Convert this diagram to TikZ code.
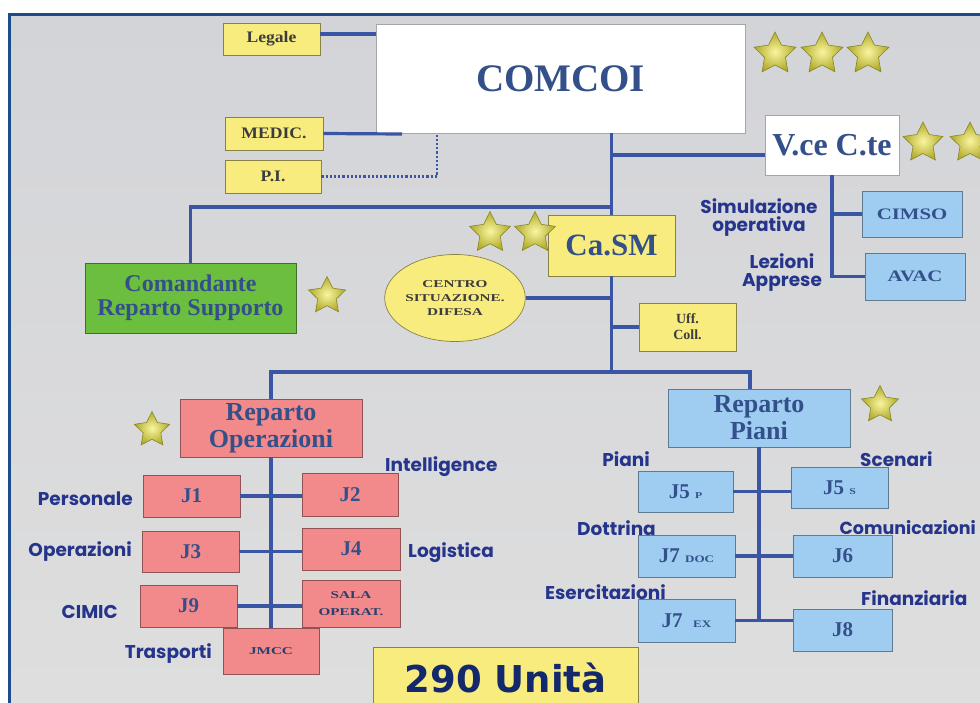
\documentclass[tikz,border=0pt]{standalone}
\usepackage{fontspec}
\setmainfont{Liberation Serif}
\newfontfamily\lab{Poppins}
\newfontfamily\heavy{DejaVu Sans}
\newfontfamily\wserif[FakeStretch=1.45]{Liberation Serif}
\newfontfamily\cserif[FakeStretch=1.3]{Liberation Serif}
\newfontfamily\mserif[FakeStretch=1.1]{Liberation Serif}
\usetikzlibrary{shapes.geometric,calc}
\newcommand{\fsz}[2]{\fontsize{#1}{#2}\selectfont}
\definecolor{linec}{HTML}{3A55A4}
\definecolor{framec}{HTML}{1C4C8C}
\definecolor{txtc}{HTML}{33508A}
\definecolor{labc}{HTML}{26358C}
\definecolor{yel}{HTML}{F8EC7E}
\definecolor{pnk}{HTML}{F2898A}
\definecolor{lblue}{HTML}{9FCDF2}
\definecolor{grn}{HTML}{6BBE3E}
\definecolor{smalltxt}{HTML}{3C3C3C}
\definecolor{navy}{HTML}{14296B}
\definecolor{bgtop}{HTML}{D3D4D8}
\definecolor{bgmid}{HTML}{B6BAC1}
\definecolor{bgbot}{HTML}{DEDEDE}
\definecolor{starin}{HTML}{FAF5A0}
\definecolor{starout}{HTML}{B0AA28}
\definecolor{staredge}{HTML}{84862A}
\begin{document}
\begin{tikzpicture}[x=1pt,y=-1pt,
  box/.style={inner sep=0, align=center, line width=0.7},
  ybox/.style={box, fill=yel, draw=yel!55!black},
  wbox/.style={box, fill=white, draw=black!35},
  pbox/.style={box, fill=pnk, draw=pnk!60!black},
  bbox/.style={box, fill=lblue, draw=lblue!60!black},
  gbox/.style={box, fill=grn, draw=grn!60!black},
  conn/.style={draw=linec, line width=3.2},
  lbl/.style={inner sep=0, text=labc, font={\lab\bfseries\fsz{18.5}{20}}, align=center},
  gstar/.style={star, star points=5, star point ratio=2.0, minimum size=#1, inner sep=0,
    draw=staredge, line width=0.6, shading=radial, inner color=starin, outer color=starout},
  bigt/.style={text=txtc, font={\bfseries\fsz{26}{27}}},
  jt/.style={text=txtc, font={\bfseries\fsz{21}{22}}},
  smt/.style={text=smalltxt}
]
\useasboundingbox (0,0) rectangle (980,702);
\fill[white] (0,0) rectangle (980,702);
\shade[top color=bgtop, middle color=bgmid, bottom color=bgbot] (9,14) rectangle (980,702);
\draw[framec, line width=3] (9,704) -- (9,14) -- (982,14);

% ---------- top level ----------
\node[wbox, minimum width=369, minimum height=109, text=txtc, font={\bfseries\fsz{39}{40}}] (comcoi) at (560.5,78.5) {COMCOI};
\node[ybox, minimum width=97, minimum height=32, smt, font={\mserif\bfseries\fsz{16}{17}}] (legale) at (271.5,39) {Legale};
\node[ybox, minimum width=98, minimum height=33, smt, font={\mserif\bfseries\fsz{16}{17}}] (medic) at (274,133.5) {MEDIC.};
\node[ybox, minimum width=96, minimum height=33, smt, font={\mserif\bfseries\fsz{16}{17}}] (pi) at (273,176.5) {P.I.};
\node[wbox, minimum width=134, minimum height=60, text=txtc, font={\bfseries\fsz{32}{33}}] (vce) at (832,145) {V.ce C.te};
\node[bbox, minimum width=100, minimum height=46, text=txtc, font={\cserif\bfseries\fsz{16}{17}}] (cimso) at (912,214) {CIMSO};
\node[bbox, minimum width=100, minimum height=47, text=txtc, font={\cserif\bfseries\fsz{16}{17}}] (avac) at (915,276.5) {AVAC};
\node[ybox, minimum width=127, minimum height=61, text=txtc, font={\bfseries\fsz{31}{32}}] (casm) at (611.5,245.5) {Ca.SM};
\node[ellipse, fill=yel, draw=yel!55!black, line width=0.7, inner sep=0, minimum width=110, minimum height=87, align=center, smt, font={\wserif\bfseries\fsz{10.5}{14}}] (centro) at (455,298) {CENTRO\\SITUAZIONE.\\DIFESA};
\node[gbox, minimum width=211, minimum height=70, text=txtc, font={\bfseries\fsz{24}{24}}] (comand) at (190.5,298) {Comandante\\Reparto Supporto};
\node[ybox, minimum width=97, minimum height=48, smt, font={\bfseries\fsz{14}{16}}] (uff) at (687.5,327) {Uff.\\Coll.};

% ---------- Reparto Operazioni ----------
\node[pbox, minimum width=182, minimum height=58, bigt] (repop) at (271,428) {Reparto\\Operazioni};
\node[pbox, minimum width=97, minimum height=42, jt] (j1) at (191.5,496) {J1};
\node[pbox, minimum width=96, minimum height=43, jt] (j2) at (350,494.5) {J2};
\node[pbox, minimum width=97, minimum height=41, jt] (j3) at (190.5,551.5) {J3};
\node[pbox, minimum width=98, minimum height=42, jt] (j4) at (351,549) {J4};
\node[pbox, minimum width=97, minimum height=42, jt] (j9) at (188.5,606) {J9};
\node[pbox, minimum width=98, minimum height=47, text=txtc!80!black, font={\wserif\bfseries\fsz{10.5}{17}}] (sala) at (351,603.5) {SALA\\OPERAT.};
\node[pbox, minimum width=96, minimum height=46, text=txtc!80!black, font={\wserif\bfseries\fsz{10.5}{12}}] (jmcc) at (271,651) {JMCC};

% ---------- Reparto Piani ----------
\node[bbox, minimum width=182, minimum height=58, bigt] (reppiani) at (759,418) {Reparto\\Piani};
\node[bbox, minimum width=95, minimum height=41, jt] (j5p) at (685.5,491.5) {J5 {\cserif\fsz{9}{9}P}};
\node[bbox, minimum width=97, minimum height=41, jt] (j5s) at (839.5,487.5) {J5 {\cserif\fsz{9}{9}S}};
\node[bbox, minimum width=97, minimum height=42, jt] (j7doc) at (686.5,556) {J7 {\cserif\fsz{10}{10}DOC}};
\node[bbox, minimum width=99, minimum height=42, jt] (j6) at (842.5,556) {J6};
\node[bbox, minimum width=97, minimum height=43, jt] (j7ex) at (686.5,620.5) {J7\ \ {\cserif\fsz{10}{10}EX}};
\node[bbox, minimum width=99, minimum height=42, jt] (j8) at (842.5,630) {J8};

% ---------- 290 Unità ----------
\node[ybox, minimum width=265, minimum height=62, text=navy, font={\heavy\bfseries\fsz{37}{38}}] (unita) at (505.5,678) {290 Unità};

% ---------- stars ----------
\node[gstar=44] (s1) at (775,54) {};
\node[gstar=44] (s2) at (822,54) {};
\node[gstar=44] (s3) at (868,54) {};
\node[gstar=42] (s4) at (923,143) {};
\node[gstar=42] (s5) at (970,143) {};
\node[gstar=43] (s6) at (490,233) {};
\node[gstar=43] (s7) at (535,233) {};
\node[gstar=39] (s8) at (327,296) {};
\node[gstar=37] (s9) at (152,430) {};
\node[gstar=39] (s10) at (880,405) {};

% ---------- connector points ----------
\coordinate (mj) at (402,134);
\coordinate (pj) at (437,134);
\coordinate (cj) at (611.5,207);
\coordinate (bar) at (611.5,372);

% ---------- connectors ----------
\draw[conn] ([yshift=5pt]legale.east) -- ([yshift=5pt]legale.east -| comcoi.west);
\draw[conn] (medic.east) -- (mj);
\draw[draw=linec, line width=2.2, dotted] (pi.east) -| (pj);
\draw[conn] (comcoi.south -| casm.north) -- (casm.north);
\draw[conn] ([yshift=-10pt]vce.west -| casm.north) -- ([yshift=-10pt]vce.west);
\draw[conn] (comand.north) |- (cj);
\draw[conn] (casm.south) -- (bar);
\draw[conn] (centro.east) -- (centro.east -| casm.south);
\draw[conn] (uff.west) -- (uff.west -| casm.south);
\draw[conn] (repop.north) |- (bar) -| ([xshift=-9pt]reppiani.north);
\draw[conn] (vce.south) |- (avac.west);
\draw[conn] (vce.south |- cimso.west) -- (cimso.west);
\draw[conn] (repop.south) -- (repop.south |- jmcc.north);
\draw[conn] (j1.east) -- (j1.east -| j2.west);
\draw[conn] (j3.east) -- (j3.east -| j4.west);
\draw[conn] (j9.east) -- (j9.east -| sala.west);
\draw[conn] (reppiani.south) -- (reppiani.south |- j7ex.east);
\draw[conn] (j5p.east) -- (j5p.east -| j5s.west);
\draw[conn] (j7doc.east) -- (j7doc.east -| j6.west);
\draw[conn] (j7ex.east) -- (j7ex.east -| j8.west);

% ---------- labels ----------
\node[lbl] (lsim) at (759,218) {Simulazione\\[-2pt]operativa};
\node[lbl] (llez) at (782,273) {Lezioni\\[-2pt]Apprese};
\node[lbl, anchor=east] (lpers) at (133,499) {Personale};
\node[lbl, anchor=east] (lopz) at (132,552) {Operazioni};
\node[lbl, anchor=east] (lcim) at (118,612) {CIMIC};
\node[lbl, anchor=east] (ltra) at (212,654) {Trasporti};
\node[lbl, anchor=west] (lint) at (385,467) {Intelligence};
\node[lbl, anchor=west] (llog) at (408,553) {Logistica};
\node[lbl, anchor=east] (lpia) at (650,459) {Piani};
\node[lbl, anchor=west] (lsce) at (860,459) {Scenari};
\node[lbl, anchor=east] (ldot) at (656,528) {Dottrina};
\node[lbl, anchor=east, font={\lab\bfseries\fsz{17.5}{20}}] (lcom) at (976,528) {Comunicazioni};
\node[lbl, anchor=east] (lese) at (666,592) {Esercitazioni};
\node[lbl, anchor=west] (lfin) at (861,598) {Finanziaria};
\end{tikzpicture}
\end{document}
